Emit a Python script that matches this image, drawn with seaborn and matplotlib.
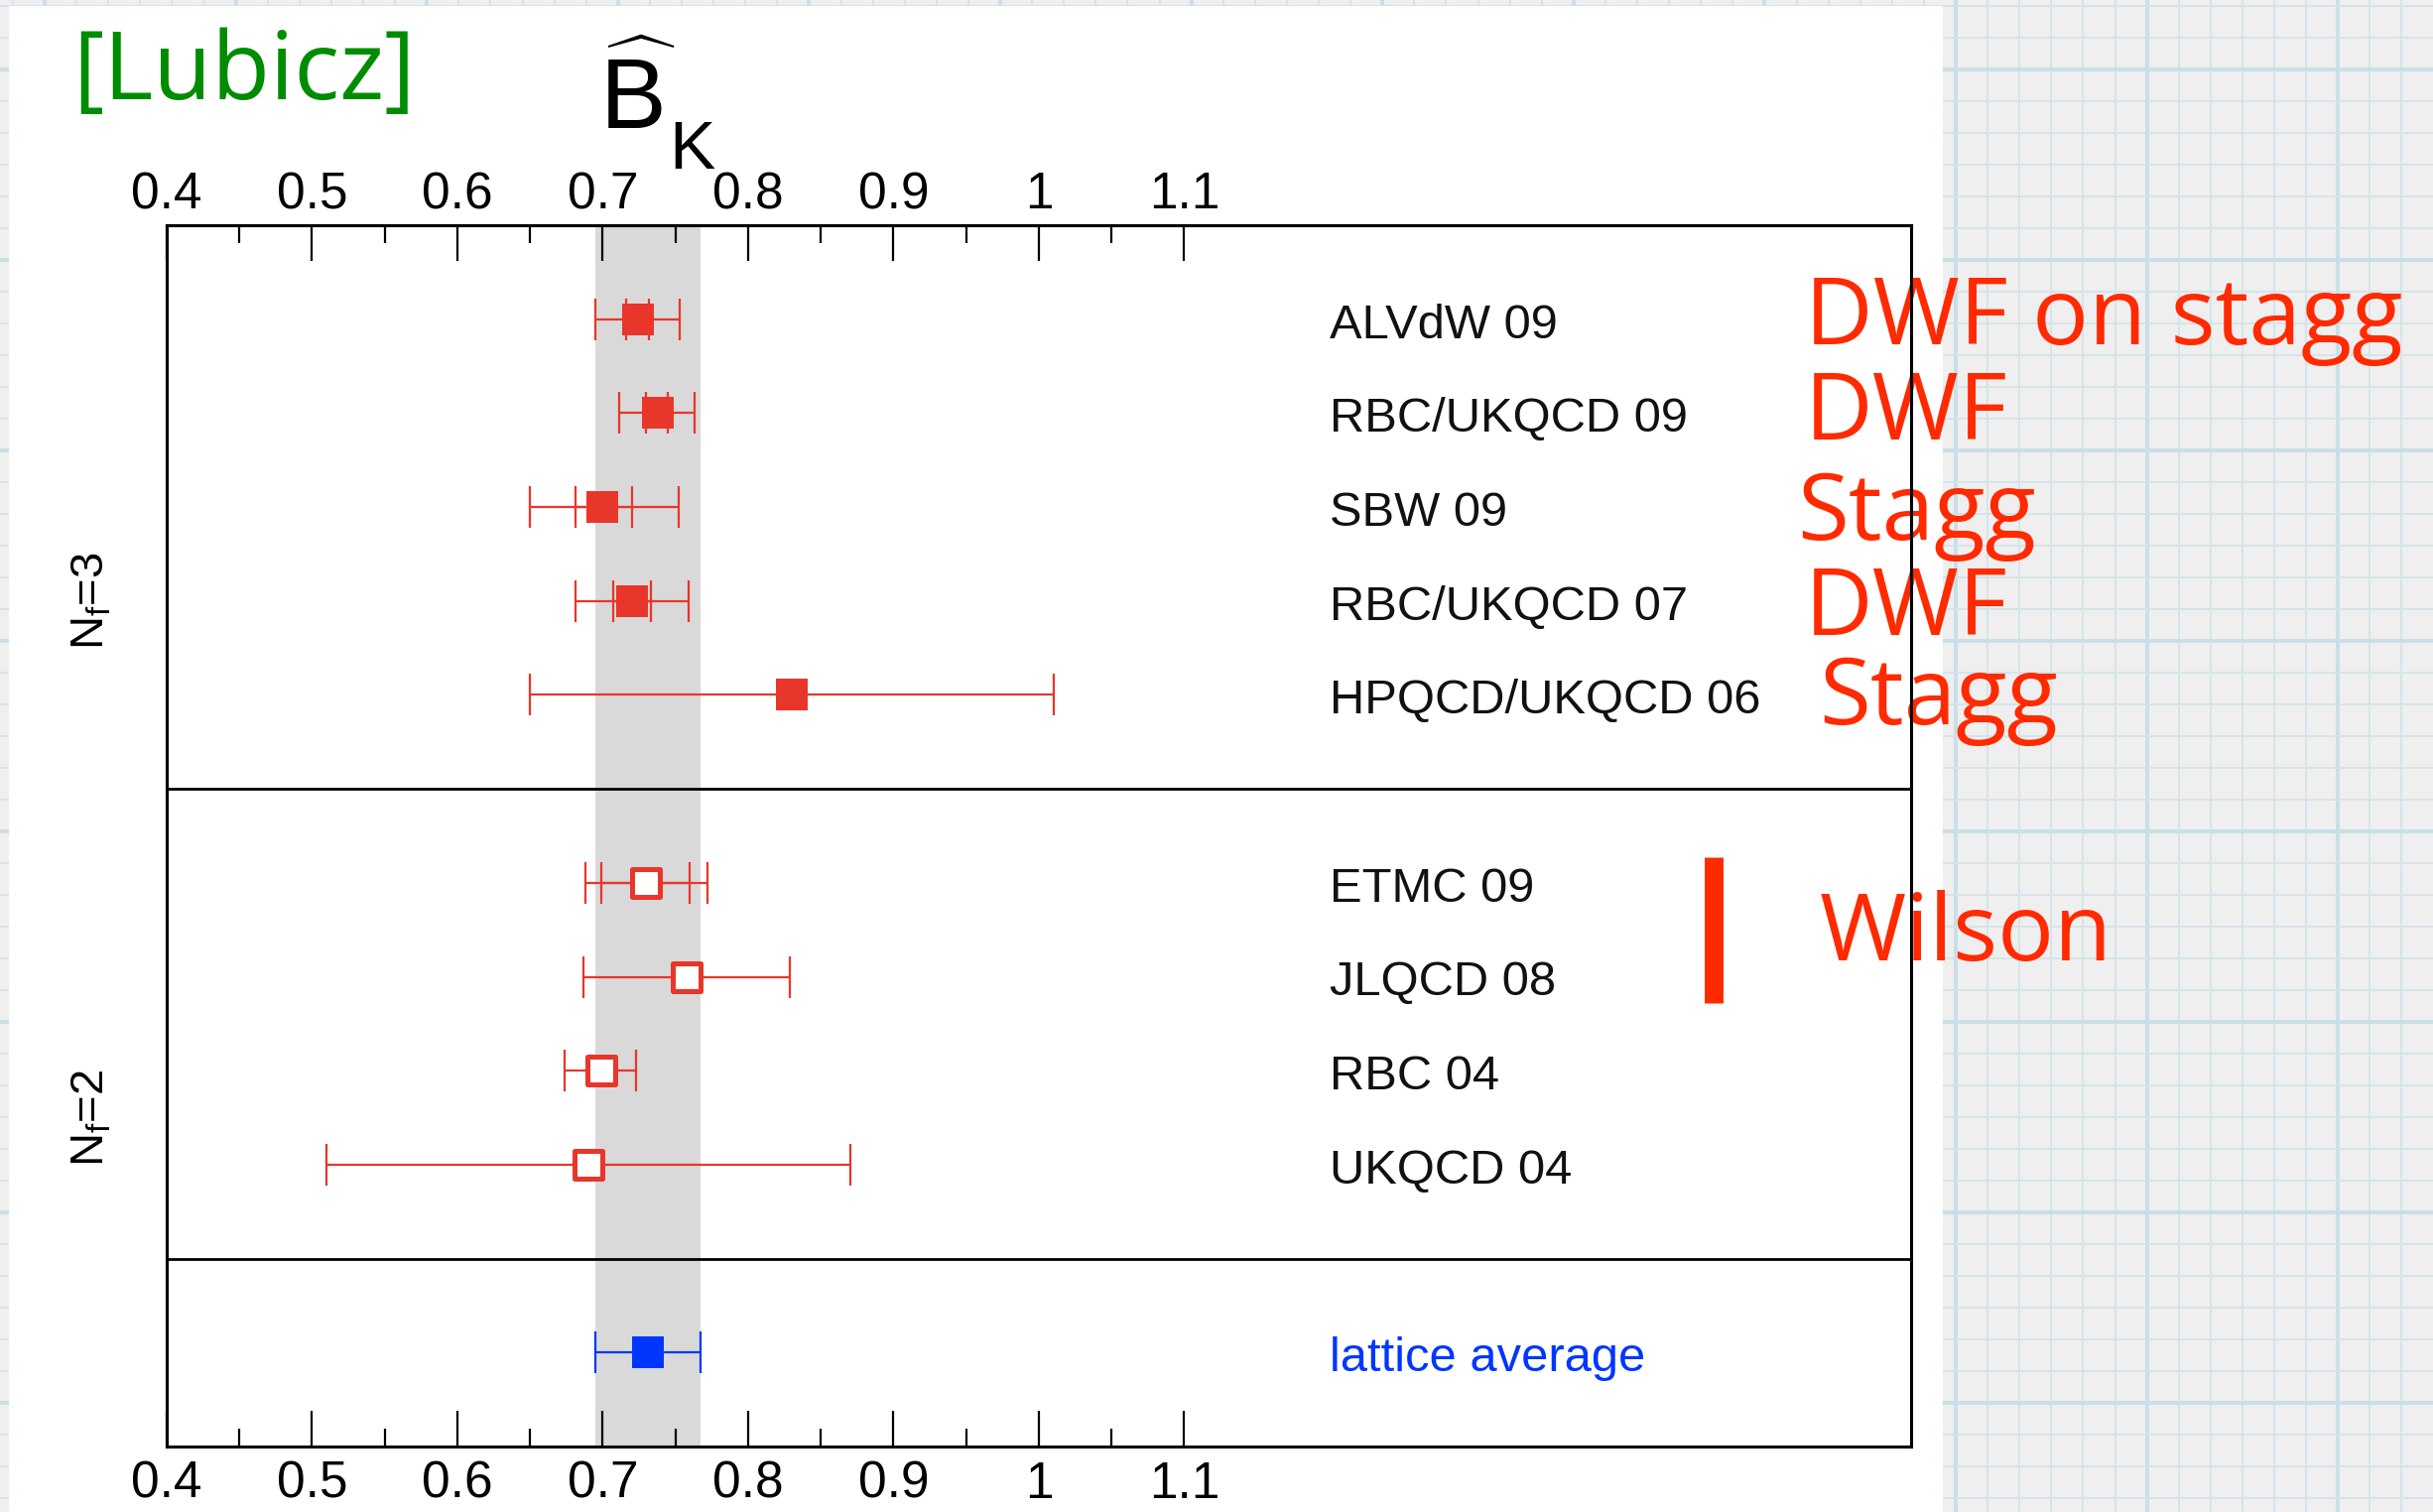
import numpy as np
import pandas as pd
import matplotlib.pyplot as plt
import seaborn as sns
from matplotlib.patches import Rectangle

# B_K results, rows counted from the top of the frame
labels = ["ALVdW 09", "RBC/UKQCD 09", "SBW 09", "RBC/UKQCD 07", "HPQCD/UKQCD 06",
          "ETMC 09", "JLQCD 08", "RBC 04", "UKQCD 04", "lattice average"]
rows = [1, 2, 3, 4, 5, 7, 8, 9, 10, 12]
central = [0.724, 0.738, 0.700, 0.720, 0.830, 0.730, 0.758, 0.699, 0.690, 0.731]
tot_lo = [0.029, 0.027, 0.050, 0.039, 0.180, 0.042, 0.071, 0.025, 0.180, 0.036]
tot_hi = [0.029, 0.025, 0.052, 0.039, 0.180, 0.042, 0.071, 0.024, 0.180, 0.036]
stat_lo = [0.008, 0.008, 0.019, 0.013, 0.0, 0.031, 0.0, 0.0, 0.0, 0.0]
stat_hi = [0.008, 0.007, 0.020, 0.013, 0.0, 0.030, 0.0, 0.0, 0.0, 0.0]
kind = ["Nf=3"] * 5 + ["Nf=2"] * 4 + ["average"]

sections = [6, 11]
group_labels = [r"N$_\mathrm{f}$=3", r"N$_\mathrm{f}$=2"]
group_rows = [4.0, 9.5]

tick_vals = [0.4, 0.5, 0.6, 0.7, 0.8, 0.9, 1.0, 1.1]
tick_text = ["0.4", "0.5", "0.6", "0.7", "0.8", "0.9", "1", "1.1"]
minor_vals = [0.45, 0.55, 0.65, 0.75, 0.85, 0.95, 1.05]

notes = ["DWF on stagg", "DWF", "Stagg", "DWF", "Stagg", "Wilson"]
notes_pos = [(1819, 347), (1819, 443), (1811, 544), (1819, 640), (1833, 730), (1834, 968)]

df = pd.DataFrame({"label": labels, "row": rows, "val": central, "kind": kind,
                   "tlo": tot_lo, "thi": tot_hi, "slo": stat_lo, "shi": stat_hi})

RED = "#e8362a"
BLUE = "#0036ff"
NOTE = "#ff2a00"

sns.set_theme(style="white")
plt.rcParams["font.family"] = ["Liberation Sans", "DejaVu Sans"]
plt.rcParams["mathtext.fontset"] = "custom"
plt.rcParams["mathtext.rm"] = "Liberation Sans"
plt.rcParams["mathtext.it"] = "Liberation Sans:italic"

W, H = 2452, 1524
fig = plt.figure(figsize=(W / 200, H / 200), dpi=200, facecolor="#efefef")


def px(x, y):
    return x / W, 1 - y / H


# graph paper + white slide panel
bg = fig.add_axes([0, 0, 1, 1], zorder=-10)
bg.set_xlim(0, W)
bg.set_ylim(H, 0)
bg.set_facecolor("#efefef")
for k in range(-62, 16):
    x = 1971 + 32.1 * k
    bg.axvline(x, color="#c9dfe8" if k % 6 == 0 else "#d5e4ea", lw=1.4 if k % 6 == 0 else 0.7)
for k in range(-3, 46):
    y = 70 + 32 * k
    bg.axhline(y, color="#c9dfe8" if k % 6 == 0 else "#d5e4ea", lw=1.4 if k % 6 == 0 else 0.7)
bg.add_patch(Rectangle((10, 7), 1946, 1600, color="white", zorder=2))
bg.axis("off")

ax = fig.add_axes([168 / W, 1 - 1458 / H, (1926 - 168) / W, (1458 - 227) / H])
ax.set_facecolor("none")

avg = df[df["kind"] == "average"].iloc[0]
ax.axvspan(avg["val"] - avg["tlo"], avg["val"] + avg["thi"], color="#d9d9d9", lw=0, zorder=0)

for _, r in df.iterrows():
    col = BLUE if r["kind"] == "average" else RED
    ax.errorbar(r["val"], r["row"], xerr=[[r["tlo"]], [r["thi"]]], fmt="none",
                ecolor=col, elinewidth=0.8, capsize=7.5, capthick=0.8, zorder=2)
    if r["slo"] > 0:
        ax.errorbar(r["val"], r["row"], xerr=[[r["slo"]], [r["shi"]]], fmt="none",
                    ecolor=col, elinewidth=0.8, capsize=7.5, capthick=0.8, zorder=2)

sns.scatterplot(data=df[df["kind"] == "Nf=3"], x="val", y="row", marker="s", s=125,
                color=RED, edgecolor=RED, linewidth=0, ax=ax, zorder=3, legend=False)
sns.scatterplot(data=df[df["kind"] == "Nf=2"], x="val", y="row", marker="s", s=100,
                facecolor="white", edgecolor=RED, linewidth=1.8, ax=ax, zorder=3, legend=False)
sns.scatterplot(data=df[df["kind"] == "average"], x="val", y="row", marker="s", s=130,
                color=BLUE, edgecolor=BLUE, linewidth=0, ax=ax, zorder=3, legend=False)

for _, r in df.iterrows():
    ax.text(1.2, r["row"] + 0.2, r["label"], ha="left", va="baseline", fontsize=17.6,
            color=BLUE if r["kind"] == "average" else "#111111")

for s in sections:
    ax.axhline(s, color="black", lw=1.0)

ax.set_xlim(0.4, 1.6)
ax.set_ylim(13, 0)
ax.set_xticks(tick_vals)
ax.set_xticklabels(tick_text)
ax.set_xticks(minor_vals, minor=True)
ax.set_yticks([])
ax.set_xlabel("")
ax.set_ylabel("")
ax.tick_params(axis="x", which="both", direction="in", top=False, bottom=True,
               labeltop=False, labelbottom=True, colors="black", labelsize=18.5, pad=5)
ax.tick_params(axis="x", which="major", length=13, width=0.8)
ax.tick_params(axis="x", which="minor", length=6.5, width=0.8)
for sp in ax.spines.values():
    sp.set_color("black")
    sp.set_linewidth(1.1)

top = ax.secondary_xaxis("top")
top.set_xticks(tick_vals)
top.set_xticklabels(tick_text)
top.set_xticks(minor_vals, minor=True)
top.tick_params(axis="x", which="both", direction="in", colors="black", labelsize=18.5, pad=2)
top.tick_params(axis="x", which="major", length=13, width=0.8)
top.tick_params(axis="x", which="minor", length=6.5, width=0.8)
top.spines["top"].set_linewidth(1.1)
top.spines["top"].set_color("black")

# Wilson bracket bar
ax.vlines(1.464, 6.73, 8.28, color=NOTE, lw=6.8)

# titles and side notes
fig.text(*px(604, 130), r"$\widehat{\mathrm{B}}$", fontsize=36, ha="left", va="baseline", color="black")
fig.text(*px(674, 170), "K", fontsize=25, ha="left", va="baseline", color="black")
fig.text(*px(73, 100), "[Lubicz]", fontsize=34.5, ha="left", va="baseline", color="#008c00",
         family=["Open Sans", "DejaVu Sans"])
for g, gy in zip(group_labels, group_rows):
    fig.text(*px(92, 227 + gy * (1458 - 227) / 13), g, rotation=90, ha="center", va="center",
             fontsize=17, color="black")
for t, (x, y) in zip(notes, notes_pos):
    bg.text(x, y, t, fontsize=34, ha="left", va="baseline", color=NOTE, zorder=3,
            family=["Open Sans", "DejaVu Sans"])

fig.savefig("out.png", dpi=200, facecolor=fig.get_facecolor())
